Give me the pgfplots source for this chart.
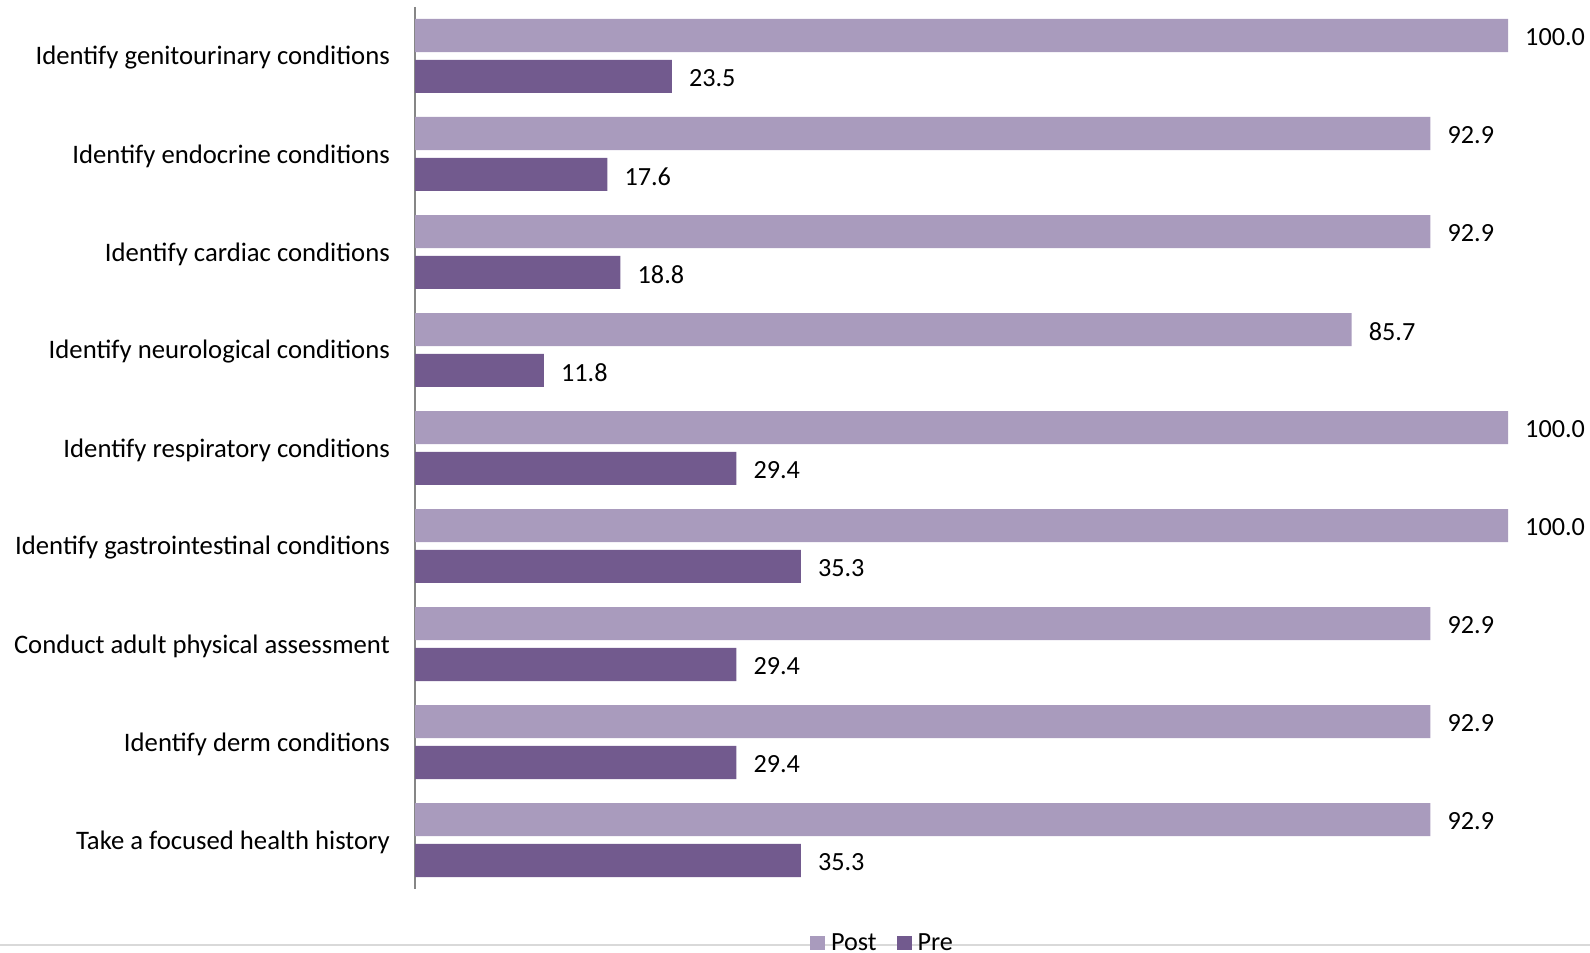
\documentclass[border=0pt]{standalone}
\usepackage{pgfplots}
\pgfplotsset{compat=1.18}
\usepackage{fontspec}
\setmainfont{Carlito}
\definecolor{postc}{HTML}{A99BBD}
\definecolor{prec}{HTML}{725A8E}
\definecolor{axisgray}{HTML}{868686}
\begin{document}
\begin{tikzpicture}[x=1bp,y=1bp]
\useasboundingbox (0,0) rectangle (1590,952);
\draw[color=black!15, line width=1.5bp] (0,7) -- (1590,7);
\begin{axis}[
  at={(415bp,63bp)}, anchor=south west,
  width=1093bp, height=882bp, scale only axis,
  xmin=0, xmax=100, ymin=-0.5, ymax=8.5,
  y dir=reverse,
  axis x line=none,
  axis y line*=left,
  y axis line style={draw=axisgray, line width=1.5bp},
  ytick={0,...,8},
  yticklabels={Identify genitourinary conditions, Identify endocrine conditions, Identify cardiac conditions, Identify neurological conditions, Identify respiratory conditions, Identify gastrointestinal conditions, Conduct adult physical assessment, Identify derm conditions, Take a focused health history},
  major tick length=0pt,
  yticklabel style={font=\fontsize{26.8}{31}\selectfont, inner sep=0pt, xshift=-25bp, yshift=-2bp},
  clip=false,
  xbar,
  bar width=0.337,
  /pgf/number format/assume math mode=true,
  nodes near coords,
  nodes near coords style={font=\fontsize{26.3}{31}\selectfont, anchor=west, inner sep=0pt, xshift=17bp, yshift=-2bp, /pgf/number format/.cd, fixed, fixed zerofill, precision=1},
  legend columns=2,
  legend style={draw=none, fill=none, inner sep=0pt, outer sep=0pt, font=\fontsize{26.3}{31}\selectfont,
    at={(axis description cs:0.3614,-0.061)}, anchor=west,
    /tikz/every odd column/.append style={column sep=4bp},
    /tikz/every even column/.append style={column sep=18bp}},
  legend image code/.code={\fill[#1] (0bp,-7bp) rectangle (15bp,7bp);},
]
\addplot[fill=postc, draw=none, bar shift=-0.209] coordinates {
(100,0) (92.9,1) (92.9,2) (85.7,3) (100,4) (100,5) (92.9,6) (92.9,7) (92.9,8)};
\addlegendentry{Post}
\addplot[fill=prec, draw=none, bar shift=0.209] coordinates {
(23.5,0) (17.6,1) (18.8,2) (11.8,3) (29.4,4) (35.3,5) (29.4,6) (29.4,7) (35.3,8)};
\addlegendentry{Pre}
\end{axis}
\end{tikzpicture}
\end{document}
